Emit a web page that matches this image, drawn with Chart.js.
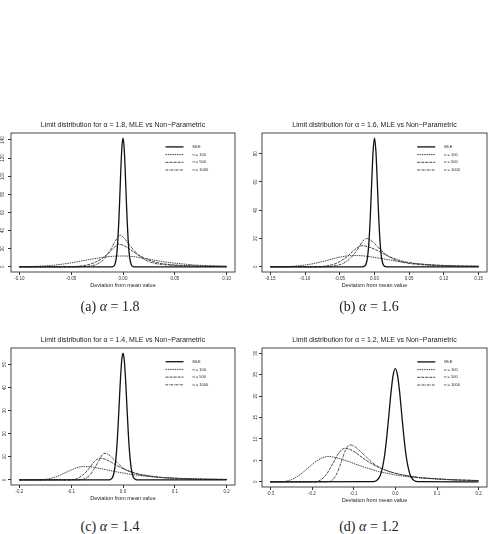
<!DOCTYPE html>
<html>
<head>
<meta charset="utf-8">
<script src="https://cdn.jsdelivr.net/npm/chart.js@4.4.0/dist/chart.umd.min.js"></script>
<style>
  body { margin: 0; background: #fff; width: 495px; height: 534px; position: relative; overflow: hidden; }
  canvas { position: absolute; }
  .cap { position: absolute; text-align: center; font-family: "Liberation Serif", "DejaVu Serif", serif; font-size: 14px; line-height: 16px; color: #222; }
  .cap i { font-style: italic; }
</style>
</head>
<body>
<canvas id="pa" width="245" height="182" style="left:0;top:118px"></canvas>
<canvas id="pb" width="245" height="182" style="left:250px;top:118px"></canvas>
<canvas id="pc" width="245" height="180" style="left:0;top:333px"></canvas>
<canvas id="pd" width="245" height="182" style="left:250px;top:333px"></canvas>
<div class="cap" style="left:0;width:220px;top:299px">(a) <i>α</i> = 1.8</div>
<div class="cap" style="left:250px;width:238px;top:299px">(b) <i>α</i> = 1.6</div>
<div class="cap" style="left:0;width:220px;top:519px">(c) <i>α</i> = 1.4</div>
<div class="cap" style="left:250px;width:238px;top:519px">(d) <i>α</i> = 1.2</div>
<script>
const seriesLabels = ['MLE', 'n = 100', 'n = 500', 'n = 1000'];

// (a) alpha = 1.8
const a_xticks = [-0.10, -0.05, 0, 0.05, 0.10];
const a_yticks = [0, 20, 40, 60, 80, 100, 120, 140];
const a_mle_x = [-0.10,-0.011,-0.010,-0.009,-0.008,-0.007,-0.006,-0.005,-0.004,-0.003,-0.002,-0.001,0,0.001,0.002,0.003,0.004,0.005,0.006,0.007,0.008,0.009,0.010,0.011,0.10];
const a_mle_y = [0,0.05,0.25,0.8,2.4,6.2,14,29,51,80,110,133,142,133,110,80,51,29,14,6.2,2.4,0.8,0.25,0.05,0];
const a_n100_x = [-0.10,-0.085,-0.07,-0.055,-0.04,-0.025,-0.012,0,0.012,0.025,0.04,0.055,0.07,0.085,0.10];
const a_n100_y = [0.1,0.5,1.5,3.5,6.5,9.5,11.5,12,11,8.5,5.5,3.5,2,1.2,0.7];
const a_n500_x = [-0.10,-0.06,-0.045,-0.035,-0.025,-0.015,-0.008,-0.004,0,0.006,0.012,0.02,0.03,0.04,0.05,0.07,0.10];
const a_n500_y = [0,0,0.5,2,6,14,22,25,24,20,15,10,5.5,3.2,2,1,0.5];
const a_n1000_x = [-0.10,-0.05,-0.035,-0.025,-0.018,-0.012,-0.006,-0.003,0,0.005,0.01,0.015,0.02,0.03,0.04,0.05,0.07,0.10];
const a_n1000_y = [0,0,0.5,3,9,19,31,35,33,26,19,13,8.5,4,2.4,1.6,0.8,0.4];

// (b) alpha = 1.6
const b_xticks = [-0.15, -0.10, -0.05, 0, 0.05, 0.10, 0.15];
const b_yticks = [0, 20, 40, 60, 80];
const b_mle_x = [-0.15,-0.018,-0.016,-0.014,-0.012,-0.010,-0.008,-0.006,-0.004,-0.002,0,0.002,0.004,0.006,0.008,0.010,0.012,0.014,0.016,0.018,0.15];
const b_mle_y = [0,0.02,0.1,0.6,2.2,6.9,17.5,36,60,82,91,82,60,36,17.5,6.9,2.2,0.6,0.1,0.02,0];
const b_n100_x = [-0.15,-0.13,-0.115,-0.10,-0.085,-0.07,-0.055,-0.04,-0.025,-0.01,0.005,0.02,0.04,0.06,0.08,0.10,0.125,0.15];
const b_n100_y = [0,0.1,0.5,1.3,2.6,4.3,6.3,7.7,8,7.4,6.3,5,3.4,2.3,1.5,1,0.6,0.4];
const b_n500_x = [-0.15,-0.09,-0.07,-0.055,-0.04,-0.03,-0.018,-0.008,0,0.01,0.02,0.035,0.05,0.07,0.10,0.15];
const b_n500_y = [0,0,0.6,2.5,7,11.5,15,14,12.5,10,7.5,4.8,3,1.8,0.9,0.4];
const b_n1000_x = [-0.15,-0.08,-0.06,-0.045,-0.035,-0.025,-0.018,-0.012,-0.006,0,0.01,0.02,0.03,0.045,0.06,0.08,0.10,0.15];
const b_n1000_y = [0,0,0.5,2.5,6,12,17.5,20,19,16.5,11.5,7.5,4.8,2.8,1.8,1.1,0.7,0.3];

// (c) alpha = 1.4
const c_xticks = [-0.2, -0.1, 0, 0.1, 0.2];
const c_yticks = [0, 10, 20, 30, 40, 50];
const c_mle_x = [-0.2,-0.0275,-0.025,-0.0225,-0.02,-0.0175,-0.015,-0.0125,-0.01,-0.0075,-0.005,-0.0025,0,0.0025,0.005,0.0075,0.01,0.0125,0.015,0.0175,0.02,0.0225,0.025,0.0275,0.2];
const c_mle_y = [0,0.04,0.15,0.45,1.2,3.0,6.5,12.4,21.2,32.2,43.4,51.8,55,51.8,43.4,32.2,21.2,12.4,6.5,3.0,1.2,0.45,0.15,0.04,0];
const c_n100_x = [-0.2,-0.16,-0.145,-0.13,-0.115,-0.1,-0.085,-0.075,-0.06,-0.045,-0.03,-0.015,0,0.025,0.05,0.075,0.1,0.15,0.2];
const c_n100_y = [0,0.05,0.4,1.3,2.7,4.3,5.5,5.8,5.6,5,4.3,3.6,3,2.1,1.5,1.05,0.75,0.4,0.2];
const c_n500_x = [-0.2,-0.105,-0.09,-0.078,-0.066,-0.055,-0.045,-0.035,-0.022,-0.01,0,0.015,0.03,0.05,0.075,0.1,0.15,0.2];
const c_n500_y = [0,0,0.5,2,4.8,8,9.4,9,7.6,6,4.9,3.6,2.6,1.8,1.1,0.75,0.35,0.2];
const c_n1000_x = [-0.2,-0.09,-0.075,-0.065,-0.055,-0.045,-0.037,-0.028,-0.018,-0.008,0,0.015,0.03,0.05,0.075,0.1,0.15,0.2];
const c_n1000_y = [0,0,0.4,1.8,5,9,11.6,11,9,6.8,5.2,3.4,2.4,1.6,1,0.7,0.35,0.2];

// (d) alpha = 1.2
const d_xticks = [-0.3, -0.2, -0.1, 0, 0.1, 0.2];
const d_yticks = [0, 5, 10, 15, 20, 25, 30];
const d_mle_x = [-0.3,-0.055,-0.05,-0.045,-0.04,-0.035,-0.03,-0.025,-0.02,-0.015,-0.01,-0.005,0,0.005,0.01,0.015,0.02,0.025,0.03,0.035,0.04,0.045,0.05,0.055,0.2];
const d_mle_y = [0,0.03,0.1,0.3,0.8,1.8,3.7,6.7,11,16.1,21.2,25,26.4,25,21.2,16.1,11,6.7,3.7,1.8,0.8,0.3,0.1,0.03,0];
const d_n100_x = [-0.3,-0.27,-0.25,-0.23,-0.21,-0.19,-0.175,-0.162,-0.145,-0.12,-0.1,-0.08,-0.06,-0.04,-0.02,0,0.05,0.1,0.15,0.2];
const d_n100_y = [0,0.05,0.5,1.6,3.2,4.8,5.6,5.9,5.7,5,4.3,3.6,3,2.4,2,1.6,1,0.65,0.4,0.3];
const d_n500_x = [-0.3,-0.195,-0.18,-0.165,-0.15,-0.135,-0.122,-0.11,-0.095,-0.08,-0.06,-0.04,-0.02,0,0.05,0.1,0.15,0.2];
const d_n500_y = [0,0,0.4,1.8,4.3,6.8,7.8,7.6,6.8,5.7,4.4,3.4,2.6,2,1.1,0.7,0.45,0.3];
const d_n1000_x = [-0.3,-0.165,-0.15,-0.14,-0.13,-0.12,-0.11,-0.1,-0.085,-0.07,-0.05,-0.03,0,0.05,0.1,0.15,0.2];
const d_n1000_y = [0,0,0.5,2,4.6,7.3,8.6,8.4,7.2,5.8,4.1,3,2,1.1,0.7,0.45,0.3];

const FONT = '"Liberation Sans", Arial, sans-serif';
const INK = '#222';

function pts(xs, ys) {
  return xs.map((x, i) => ({ x: x, y: ys[i] }));
}

// R style box, title, axis label and legend
const frame = {
  id: 'frame',
  afterDraw(chart, args, opts) {
    const ctx = chart.ctx, a = chart.chartArea;
    const w = a.right - a.left, h = a.bottom - a.top;
    const cx = (a.left + a.right) / 2;
    ctx.save();
    ctx.strokeStyle = '#333';
    ctx.lineWidth = 0.9;
    ctx.strokeRect(a.left, a.top, w, h);
    ctx.fillStyle = INK;
    ctx.textAlign = 'center';
    ctx.textBaseline = 'middle';
    ctx.font = '7px ' + FONT;
    ctx.fillText(opts.title, cx, a.top - 8);
    ctx.font = '5.5px ' + FONT;
    ctx.fillText('Deviation from mean value', cx, a.bottom + 13);
    chart.data.datasets.forEach((ds, i) => {
      const y = a.top + 0.10 * h + i * 7.7;
      ctx.beginPath();
      ctx.setLineDash(ds.borderDash || []);
      ctx.lineWidth = ds.borderWidth;
      ctx.strokeStyle = ds.borderColor;
      ctx.moveTo(a.left + 0.69 * w, y);
      ctx.lineTo(a.left + 0.77 * w, y);
      ctx.stroke();
      ctx.setLineDash([]);
      ctx.font = '4px ' + FONT;
      ctx.textAlign = 'left';
      ctx.fillText(ds.label, a.left + 0.81 * w, y);
    });
    ctx.restore();
  }
};

function panel(id, alpha, curves, xticks, yticks, xdec, ydataMax, yMaxAxis, yw, padRight) {
  const xspan = xticks[xticks.length - 1] - xticks[0];
  const styles = [
    { borderWidth: 1.3, borderDash: [], color: '#111' },
    { borderWidth: 0.9, borderDash: [1.5, 0.8], color: '#333' },
    { borderWidth: 0.9, borderDash: [3, 1], color: '#333' },
    { borderWidth: 0.9, borderDash: [2.5, 0.8, 0.8, 0.8], color: '#333' }
  ];
  const datasets = curves.map((c, i) => ({
    label: seriesLabels[i],
    data: pts(c[0], c[1]),
    borderColor: styles[i].color,
    borderWidth: styles[i].borderWidth,
    borderDash: styles[i].borderDash,
    pointRadius: 0,
    fill: false,
    cubicInterpolationMode: 'monotone'
  }));
  new Chart(document.getElementById(id), {
    type: 'line',
    data: { datasets: datasets },
    options: {
      responsive: false,
      animation: false,
      layout: { padding: { top: 15, right: padRight, left: 0, bottom: 0 } },
      plugins: {
        legend: { display: false },
        tooltip: { enabled: false },
        frame: { title: 'Limit distribution for α = ' + alpha + ', MLE vs Non\u2212Parametric' }
      },
      scales: {
        x: {
          type: 'linear',
          min: xticks[0] - 0.04 * xspan,
          max: xticks[xticks.length - 1] + 0.04 * xspan,
          afterBuildTicks: s => { s.ticks = xticks.map(v => ({ value: v })); },
          afterFit: s => { s.height = 28; },
          ticks: {
            callback: v => v.toFixed(xdec),
            font: { size: 4.5, family: FONT },
            color: '#333',
            padding: 1,
            maxRotation: 0,
            autoSkip: false
          },
          grid: { drawOnChartArea: false, drawTicks: true, tickLength: 3, color: '#333' },
          border: { display: false }
        },
        y: {
          min: yMaxAxis ? -0.04 * yMaxAxis / 1.04 : -0.04 * ydataMax,
          max: yMaxAxis ? yMaxAxis : 1.04 * ydataMax,
          afterBuildTicks: s => { s.ticks = yticks.map(v => ({ value: v })); },
          afterFit: s => { s.width = yw; },
          ticks: {
            font: { size: 4.5, family: FONT },
            color: '#333',
            padding: 1,
            minRotation: 90,
            maxRotation: 90,
            crossAlign: 'center',
            autoSkip: false
          },
          grid: { drawOnChartArea: false, drawTicks: true, tickLength: 3, color: '#333' },
          border: { display: false }
        }
      }
    },
    plugins: [frame]
  });
}

panel('pa', '1.8',
  [[a_mle_x, a_mle_y], [a_n100_x, a_n100_y], [a_n500_x, a_n500_y], [a_n1000_x, a_n1000_y]],
  a_xticks, a_yticks, 2, 142, null, 11, 10);
panel('pb', '1.6',
  [[b_mle_x, b_mle_y], [b_n100_x, b_n100_y], [b_n500_x, b_n500_y], [b_n1000_x, b_n1000_y]],
  b_xticks, b_yticks, 2, 91, null, 12, 8);
panel('pc', '1.4',
  [[c_mle_x, c_mle_y], [c_n100_x, c_n100_y], [c_n500_x, c_n500_y], [c_n1000_x, c_n1000_y]],
  c_xticks, c_yticks, 1, 55, null, 11, 10);
panel('pd', '1.2',
  [[d_mle_x, d_mle_y], [d_n100_x, d_n100_y], [d_n500_x, d_n500_y], [d_n1000_x, d_n1000_y]],
  d_xticks, d_yticks, 1, 26.4, 31.2, 12, 8);
</script>
</body>
</html>
